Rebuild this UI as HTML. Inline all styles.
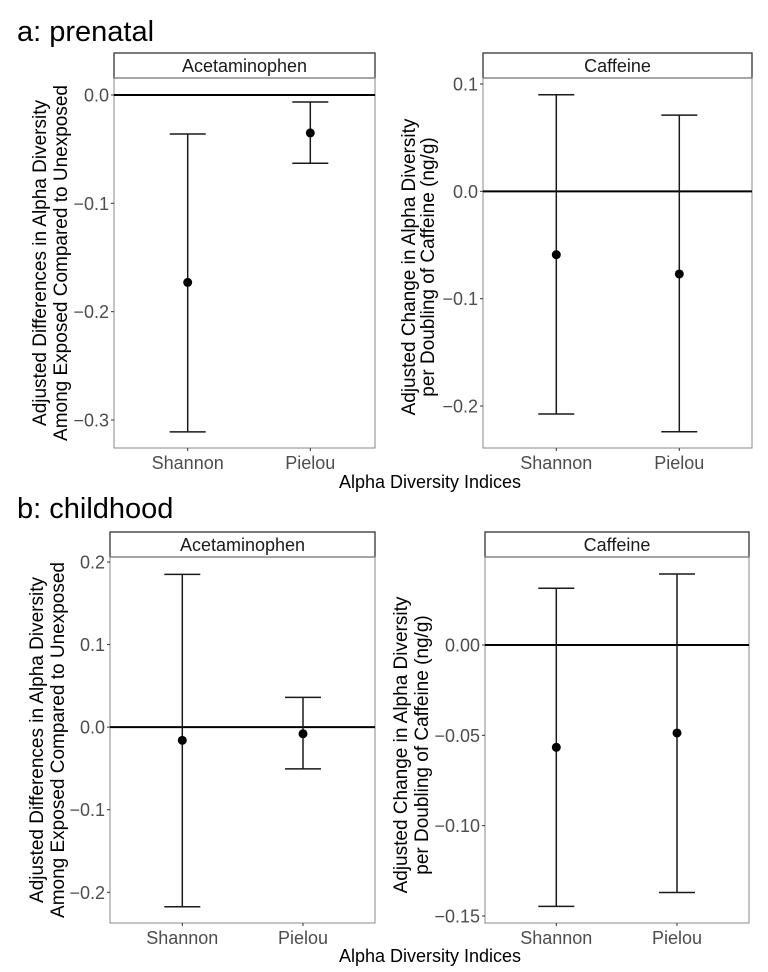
<!DOCTYPE html>
<html><head><meta charset="utf-8"><style>
body{margin:0;background:#fff;}
svg{display:block;font-family:"Liberation Sans",sans-serif;}
</style></head><body>
<svg id="chart" width="768" height="972" viewBox="0 0 768 972">
<text x="17" y="41" font-size="29" fill="#000">a: prenatal</text>
<text x="17" y="518" font-size="29" fill="#000">b: childhood</text>
<text x="430" y="488" font-size="18" text-anchor="middle" fill="#000">Alpha Diversity Indices</text>
<text x="430" y="962" font-size="18" text-anchor="middle" fill="#000">Alpha Diversity Indices</text>
</svg>
<script>
const categories = ["Shannon", "Pielou"];
// prenatal acetaminophen
const aAcetEst = [-0.173, -0.035];
const aAcetLo = [-0.311, -0.063];
const aAcetHi = [-0.036, -0.0065];
const aAcetTicks = [0.0, -0.1, -0.2, -0.3];
const aAcetTickLabels = ["0.0", "\u22120.1", "\u22120.2", "\u22120.3"];
// prenatal caffeine
const aCafEst = [-0.059, -0.077];
const aCafLo = [-0.2075, -0.224];
const aCafHi = [0.090, 0.071];
const aCafTicks = [0.1, 0.0, -0.1, -0.2];
const aCafTickLabels = ["0.1", "0.0", "\u22120.1", "\u22120.2"];
// childhood acetaminophen
const bAcetEst = [-0.016, -0.008];
const bAcetLo = [-0.2175, -0.0505];
const bAcetHi = [0.185, 0.036];
const bAcetTicks = [0.2, 0.1, 0.0, -0.1, -0.2];
const bAcetTickLabels = ["0.2", "0.1", "0.0", "\u22120.1", "\u22120.2"];
// childhood caffeine
const bCafEst = [-0.0566, -0.0487];
const bCafLo = [-0.1447, -0.137];
const bCafHi = [0.0314, 0.0393];
const bCafTicks = [0.00, -0.05, -0.10, -0.15];
const bCafTickLabels = ["0.00", "\u22120.05", "\u22120.10", "\u22120.15"];

const NS = "http://www.w3.org/2000/svg";
const svg = document.getElementById('chart');
function mk(tag, attrs, parent){
  const e = document.createElementNS(NS, tag);
  for (const k in attrs) e.setAttribute(k, attrs[k]);
  (parent||svg).appendChild(e);
  return e;
}
function panel(cfg){
  const g = mk('g', {});
  
  
  const {L,R,ST,SB,B,y0v,y0p,y1v,y1p} = cfg;
  const y = v => y0p + (v - y0v) * (y1p - y0p) / (y1v - y0v);
  const xs = cfg.xs;
  const x = i => xs[i];
  const strip = mk('rect', {x:L, y:ST, width:R-L, height:SB-ST, fill:'#fff', stroke:'#333', 'stroke-width':1.3}, g);
  
  
  const st = mk('text', {x:(L+R)/2, y:(ST+SB)/2+6.5, 'font-size':18, 'text-anchor':'middle', fill:'#1a1a1a'}, g);
  st.textContent = cfg.strip;
  
  
  const frame = mk('rect', {x:L, y:SB, width:R-L, height:B-SB, fill:'none', stroke:'#888', 'stroke-width':1}, g);
  
  
  cfg.ticks.forEach((t,i)=>{
    const yy = y(t);
    const tk = mk('line', {x1:L-3, x2:L, y1:yy, y2:yy, stroke:'#333', 'stroke-width':1}, g);
    
    
    const lb = mk('text', {x:L-5, y:yy+6.5, 'font-size':18, 'text-anchor':'end', fill:'#4d4d4d'}, g);
    lb.textContent = cfg.tickLabels[i];
    
    
  });
  const zl = mk('line', {x1:L, x2:R, y1:y(0), y2:y(0), stroke:'#000', 'stroke-width':2}, g);
  
  
  categories.forEach((c,i)=>{
    const xx = x(i);
    const tk = mk('line', {x1:xx, x2:xx, y1:B, y2:B+3, stroke:'#333', 'stroke-width':1}, g);
    
    
    const lb = mk('text', {x:xx, y:B+21, 'font-size':18, 'text-anchor':'middle', fill:'#4d4d4d'}, g);
    lb.textContent = c;
    
    
    const eb = mk('g', {stroke:'#1a1a1a', 'stroke-width':1.5, fill:'none'}, g);
    
    
    mk('line', {x1:xx, x2:xx, y1:y(cfg.hi[i]), y2:y(cfg.lo[i])}, eb);
    mk('line', {x1:xx-18, x2:xx+18, y1:y(cfg.hi[i]), y2:y(cfg.hi[i])}, eb);
    mk('line', {x1:xx-18, x2:xx+18, y1:y(cfg.lo[i]), y2:y(cfg.lo[i])}, eb);
    const pt = mk('circle', {cx:xx, cy:y(cfg.est[i]), r:4.5, fill:'#000'}, g);
    
    
  });
  const cy = (SB+B)/2 + cfg.tdy;
  cfg.title.forEach((t,k)=>{
    const tx = cfg.tx[k];
    const tt = mk('text', {x:tx, y:cy, 'font-size':19, 'text-anchor':'middle', fill:'#000', transform:`rotate(-90 ${tx} ${cy})`}, g);
    tt.textContent = t;
    
    
  });
}
const acetTitle = ["Adjusted Differences in Alpha Diversity", "Among Exposed Compared to Unexposed"];
const cafTitle = ["Adjusted Change in Alpha Diversity", "per Doubling of Caffeine (ng/g)"];
panel({name:'panel-prenatal-acetaminophen', strip:'Acetaminophen', L:114, R:375, ST:53, SB:78, B:448,
  y0v:0, y0p:95, y1v:-0.3, y1p:420, xs:[187.7, 310.3],
  est:aAcetEst, lo:aAcetLo, hi:aAcetHi, ticks:aAcetTicks, tickLabels:aAcetTickLabels,
  title:acetTitle, tx:[46,67], tdy:0});
panel({name:'panel-prenatal-caffeine', strip:'Caffeine', L:483, R:752, ST:53, SB:78, B:448,
  y0v:0.1, y0p:84, y1v:-0.2, y1p:406, xs:[556.3, 679.3],
  est:aCafEst, lo:aCafLo, hi:aCafHi, ticks:aCafTicks, tickLabels:aCafTickLabels,
  title:cafTitle, tx:[415,434], tdy:4});
panel({name:'panel-childhood-acetaminophen', strip:'Acetaminophen', L:110, R:375, ST:532, SB:557, B:923,
  y0v:0.2, y0p:562, y1v:-0.2, y1p:892.3, xs:[182.3, 303],
  est:bAcetEst, lo:bAcetLo, hi:bAcetHi, ticks:bAcetTicks, tickLabels:bAcetTickLabels,
  title:acetTitle, tx:[43,64], tdy:0});
panel({name:'panel-childhood-caffeine', strip:'Caffeine', L:485, R:749, ST:532, SB:557, B:923,
  y0v:0, y0p:645, y1v:-0.15, y1p:916, xs:[556.3, 677],
  est:bCafEst, lo:bCafLo, hi:bCafHi, ticks:bCafTicks, tickLabels:bCafTickLabels,
  title:cafTitle, tx:[407,428], tdy:5});
</script>
</body></html>
